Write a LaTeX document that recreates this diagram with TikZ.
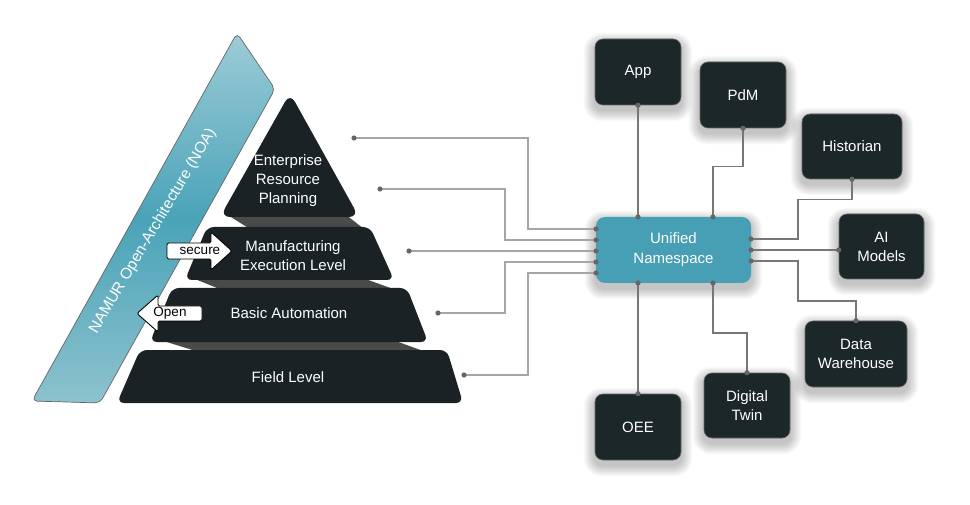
\documentclass[tikz,border=0pt]{standalone}
\usepackage{fontspec}
\setmainfont{Liberation Sans}
\usetikzlibrary{calc}
\definecolor{layerc}{HTML}{1A2225}
\definecolor{boxc}{HTML}{1C272A}
\definecolor{gapc}{HTML}{4A4A4A}
\definecolor{unsc}{HTML}{469FB4}
\definecolor{wirel}{HTML}{A6A6A6}
\definecolor{wirer}{HTML}{777777}
\definecolor{pinc}{HTML}{666666}
\definecolor{bandtop}{HTML}{9DCCD7}
\definecolor{bandmid}{HTML}{4AA3B8}
\definecolor{bandbot}{HTML}{8DC2CE}
\pgfdeclarelayer{shadowlayer}
\pgfsetlayers{shadowlayer,main}
\tikzset{
  layer/.style={fill=layerc, rounded corners=7pt},
  gapband/.style={fill=gapc},
  lbl/.style={text=white, align=center, font=\fontsize{15}{19}\selectfont},
  appbox/.style={fill=boxc, draw=black!60, line width=0.6pt, rounded corners=8pt,
     text=white, align=center, font=\fontsize{15}{19}\selectfont, inner sep=0pt},
  wireL/.style={draw=wirel, line width=1.2pt},
  wireR/.style={draw=wirer, line width=1.1pt},
  pin/.style={fill=pinc},
  flagarrow/.style={fill=white, draw=black, line width=0.9pt, rounded corners=1.5pt, line join=round},
  softshade/.style={fill=black, opacity=0.022}
}
\begin{document}
\begin{tikzpicture}[x=1pt, y=-1pt]
\useasboundingbox (0,0) rectangle (970,505);
\begin{pgfonlayer}{shadowlayer}
\fill[white] (0,0) rectangle (970,505);
\end{pgfonlayer}

% NOA band
\shade[top color=bandtop, bottom color=bandbot, middle color=bandmid, draw=black!60, line width=0.7pt, rounded corners=5pt]
  (66,402) -- (32,401) -- (237,33) -- (275,89) -- (100,403) -- cycle;
\node[text=white, font=\fontsize{15.5}{18}\selectfont, rotate=59.5] (noa) at (153,231) {NAMUR Open-Architecture (NOA)};

% gap bands
\fill[gapband] (226,214) -- (345,214) -- (364,229) -- (250,229) -- cycle;
\fill[gapband] (190,277) -- (360,277) -- (396,290) -- (222,290) -- cycle;
\fill[gapband] (157,339) -- (390,339) -- (426,352) -- (199,352) -- cycle;

% pyramid layers
\fill[layer, rounded corners=10pt] (290,217) -- (220,217) -- (290,93) -- (359,217) -- cycle;
\fill[layer] (290,227) -- (207,227) -- (185,280) -- (394,280) -- (370,227) -- cycle;
\fill[layer] (290,288) -- (172,288) -- (150,342) -- (428,342) -- (407,288) -- cycle;
\fill[layer] (290,350) -- (140,350) -- (117,403) -- (463,403) -- (447,350) -- cycle;

\node[lbl] (erp) at (288,181) {Enterprise\\Resource\\Planning};
\node[lbl] (mes) at (293,255.5) {Manufacturing\\Execution Level};
\node[lbl] (ba)  at (289,313) {Basic Automation};
\node[lbl] (fl)  at (288,377) {Field Level};

% secure / open arrows
\fill[flagarrow] (167,243) -- (211,243) -- (211,232) -- (232,251) -- (211,270) -- (211,259) -- (167,259) -- cycle;
\node[font=\fontsize{13.5}{16}\selectfont] (secure) at (200,250.5) {secure};
\fill[flagarrow] (202,306) -- (158,306) -- (158,295) -- (137,313.5) -- (158,332) -- (158,321) -- (202,321) -- cycle;
\node[font=\fontsize{13.5}{16}\selectfont] (open) at (170,313) {Open};

% pyramid connection points
\coordinate (p1) at (354,138);
\coordinate (p2) at (380,189);
\coordinate (p3) at (409,251);
\coordinate (p4) at (438,313);
\coordinate (p5) at (464,375);

% UNS
\node[fill=unsc, rounded corners=9pt, minimum width=155pt, minimum height=66pt, inner sep=0pt,
  text=white, align=center, font=\fontsize{15}{20}\selectfont]
  (uns) at (673.5,250) {Unified\\Namespace};

\coordinate (ul1) at (596,229);
\coordinate (ul2) at (596,240);
\coordinate (ul3) at (596,251);
\coordinate (ul4) at (596,262);
\coordinate (ul5) at (596,273);
\coordinate (ut1) at (638,217);
\coordinate (ut2) at (713,217);
\coordinate (ub1) at (638,283);
\coordinate (ub2) at (713,283);
\coordinate (ur1) at (751,239);
\coordinate (ur2) at (751,250);
\coordinate (ur3) at (751,261);

% bend columns
\coordinate (bxa) at (528,0);
\coordinate (bxb) at (505,0);
\coordinate (bxr) at (798,0);
\coordinate (dwj) at (798,301);

% application boxes
\node[appbox, minimum width=86pt, minimum height=66pt] (app) at (638,72) {App};
\node[appbox, minimum width=86pt, minimum height=66pt] (pdm) at (743,95) {PdM};
\node[appbox, minimum width=100pt, minimum height=65pt] (hist) at (852,146.5) {Historian};
\node[appbox, minimum width=85pt, minimum height=65pt] (ai) at (881.5,246.5) {AI\\Models};
\node[appbox, minimum width=102pt, minimum height=66pt] (dw) at (856,354) {Data\\Warehouse};
\node[appbox, minimum width=86pt, minimum height=66pt] (oee) at (638,427) {OEE};
\node[appbox, minimum width=86pt, minimum height=65pt] (dt) at (747,405.5) {Digital\\Twin};

% soft shadows
\begin{pgfonlayer}{shadowlayer}
\foreach \n in {app,pdm,hist,ai,dw,oee,dt,uns}
  \foreach \k in {1,...,10}
    \fill[softshade, rounded corners=8pt+\k pt]
      ($(\n.south west)+(-\k*1.1,\k*1.1+5)$) rectangle ($(\n.north east)+(\k*1.1,-\k*1.1+5)$);
\end{pgfonlayer}

% left wires
\draw[wireL] (p1) -| (bxa |- ul1) -- (ul1);
\draw[wireL] (p2) -| (bxb |- ul2) -- (ul2);
\draw[wireL] (p3) -- (ul3);
\draw[wireL] (p4) -| (bxb |- ul4) -- (ul4);
\draw[wireL] (p5) -| (bxa |- ul5) -- (ul5);

% right wires
\draw[wireR] (app.south) -- (ut1);
\draw[wireR] (pdm.south) -- ++(0,38) -| (ut2);
\draw[wireR] (hist.south) -- ++(0,20) -| (bxr |- ur1) -- (ur1);
\draw[wireR] (ur2) -- (ur2 -| ai.west);
\draw[wireR] (ur3) -| (dwj) -| (dw.north);
\draw[wireR] (ub1) -- (oee.north);
\draw[wireR] (ub2) -- ++(0,50) -| (dt.north);

% pins
\foreach \c in {p1,p2,p3,p4,p5,ul1,ul2,ul3,ul4,ul5,ut1,ut2,ub1,ub2,ur1,ur2,ur3}
  \fill[pin] (\c) circle (2.6pt);
\fill[pin] (app.south) circle (2.6pt);
\fill[pin] (pdm.south) circle (2.6pt);
\fill[pin] (hist.south) circle (2.6pt);
\fill[pin] (ur2 -| ai.west) circle (2.6pt);
\fill[pin] (dw.north) circle (2.6pt);
\fill[pin] (oee.north) circle (2.6pt);
\fill[pin] (dt.north) circle (2.6pt);
\end{tikzpicture}
\end{document}
